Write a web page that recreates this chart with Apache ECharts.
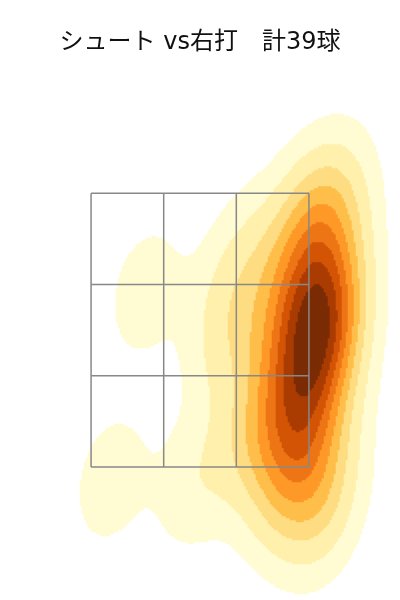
<!DOCTYPE html>
<html><head><meta charset="utf-8">
<script src="https://cdn.jsdelivr.net/npm/echarts@6/dist/echarts.min.js"></script>
<style>html,body{margin:0;padding:0;background:#fff}#c{width:400px;height:600px}</style>
</head><body><div id="c"></div>
<script>
const titleText = 'シュート vs右打\u3000計39球';
// estimated pitch locations (feet): horizontal, height
const pitchX = [0.79,0.84,0.74,0.85,0.77,0.69,0.78,0.72,0.62,0.80,0.62,0.68,0.52,0.65,0.80,0.60,0.81,0.65,0.84,0.71,0.88,0.45,0.39,0.49,0.71,0.62,0.82,0.55,0.77,0.26,0.19,0.32,-0.35,-0.58,-0.05,0.82,0.83,0.58,0.16];
const pitchZ = [2.84,2.73,2.66,2.58,2.51,2.44,2.36,2.29,2.22,2.18,1.99,1.92,1.84,1.77,2.86,2.94,3.08,3.16,3.30,3.40,3.50,2.50,1.99,1.59,1.55,1.41,1.26,1.30,1.16,1.62,2.72,3.08,2.78,1.40,1.38,1.77,2.38,2.65,2.35];
const zoneX = [-0.708, -0.236, 0.236, 0.708];
const zoneZ = [1.5, 2.167, 2.833, 3.5];
const bandColors = ['#fffbd3','#fff0ad','#fedc83','#febf4b','#fe9929','#ee7516','#d35406','#aa3c03','#7c2c05'];
const xRange = [-1.3, 1.3];
const zRange = [0.53, 4.91];
const nCellsX = 200, nCellsZ = 300;
const nLevels = 10, thresh = 0.05;

// Gaussian KDE (Scott's rule, full covariance)
const n = pitchX.length;
let mx = 0, mz = 0;
for (let i = 0; i < n; i++) { mx += pitchX[i]; mz += pitchZ[i]; }
mx /= n; mz /= n;
let sxx = 0, szz = 0, sxz = 0;
for (let i = 0; i < n; i++) { const a = pitchX[i]-mx, b = pitchZ[i]-mz; sxx += a*a; szz += b*b; sxz += a*b; }
sxx /= (n-1); szz /= (n-1); sxz /= (n-1);
const f2 = Math.pow(n, -1/3);
const ha = sxx*f2, hb = sxz*f2, hd = szz*f2;
const det = ha*hd - hb*hb;
const ia = hd/det, ib = -hb/det, id = ha/det;
const norm = 1/(2*Math.PI*Math.sqrt(det)*n);
function dens(x, z) {
  let s = 0;
  for (let i = 0; i < n; i++) {
    const a = x - pitchX[i], b = z - pitchZ[i];
    s += Math.exp(-0.5*(ia*a*a + 2*ib*a*b + id*b*b));
  }
  return s*norm;
}
const dx = (xRange[1]-xRange[0])/nCellsX, dz = (zRange[1]-zRange[0])/nCellsZ;
const ext = 120;
const vals = [];
const disp = [];
for (let i = -ext; i < nCellsX+ext; i++) {
  const x = xRange[0] + (i+0.5)*dx;
  for (let j = -ext; j < nCellsZ+ext; j++) {
    const z = zRange[0] + (j+0.5)*dz;
    const d = dens(x, z);
    vals.push(d);
    if (i >= 0 && i < nCellsX && j >= 0 && j < nCellsZ) disp.push([i, j, d]);
  }
}
const sorted = vals.slice().sort((a,b)=>b-a);
let total = 0; for (const v of sorted) total += v;
const cum = new Float64Array(sorted.length);
let acc = 0; for (let k = 0; k < sorted.length; k++) { acc += sorted[k]; cum[k] = acc/total; }
const levels = [];
for (let l = 0; l < nLevels; l++) {
  const p = thresh + (1-thresh)*l/(nLevels-1);
  const target = 1 - p;
  let lo = 0, hi = cum.length;
  while (lo < hi) { const m = (lo+hi)>>1; if (cum[m] < target) lo = m+1; else hi = m; }
  levels.push(sorted[Math.min(lo, sorted.length-1)]);
}
levels.sort((a,b)=>a-b);
const heatData = [];
for (const [i,j,d] of disp) {
  if (d < levels[0]) continue;
  let b = 0;
  while (b < nLevels-2 && d >= levels[b+1]) b++;
  heatData.push([i, j, b]);
}

const catX = Array.from({length:nCellsX}, (_,i)=>i);
const catZ = Array.from({length:nCellsZ}, (_,i)=>i);
const lineSeries = [];
for (const x of zoneX) lineSeries.push([[x, zoneZ[0]],[x, zoneZ[3]]]);
for (const z of zoneZ) lineSeries.push([[zoneX[0], z],[zoneX[3], z]]);

const chart = echarts.init(document.getElementById('c'), null, {renderer:'canvas'});
chart.setOption({
  animation: false,
  backgroundColor: '#fff',
  title: { text: titleText, left: 'center', top: 26,
    textStyle: { fontFamily: "'DejaVu Sans', 'Noto Sans CJK JP', sans-serif", fontSize: 24, fontWeight: 'normal', color: '#111' } },
  grid: [
    { left: 0, top: 0, width: 400, height: 600 },
    { left: 0, top: 0, width: 400, height: 600 }
  ],
  xAxis: [
    { type: 'category', data: catX, gridIndex: 0, show: false },
    { type: 'value', min: xRange[0], max: xRange[1], gridIndex: 1, show: false }
  ],
  yAxis: [
    { type: 'category', data: catZ, gridIndex: 0, show: false },
    { type: 'value', min: zRange[0], max: zRange[1], gridIndex: 1, show: false }
  ],
  visualMap: {
    type: 'piecewise', show: false, dimension: 2, seriesIndex: 0,
    pieces: bandColors.map((c,i)=>({ value: i, color: c }))
  },
  series: [
    { type: 'heatmap', xAxisIndex: 0, yAxisIndex: 0, data: heatData, progressive: 0, silent: true,
      itemStyle: { borderWidth: 0 } }
  ].concat(lineSeries.map(d => ({
    type: 'line', xAxisIndex: 1, yAxisIndex: 1, data: d, symbol: 'none', silent: true, z: 5,
    lineStyle: { color: '#888', width: 1.5 }
  })))
});
</script></body></html>
